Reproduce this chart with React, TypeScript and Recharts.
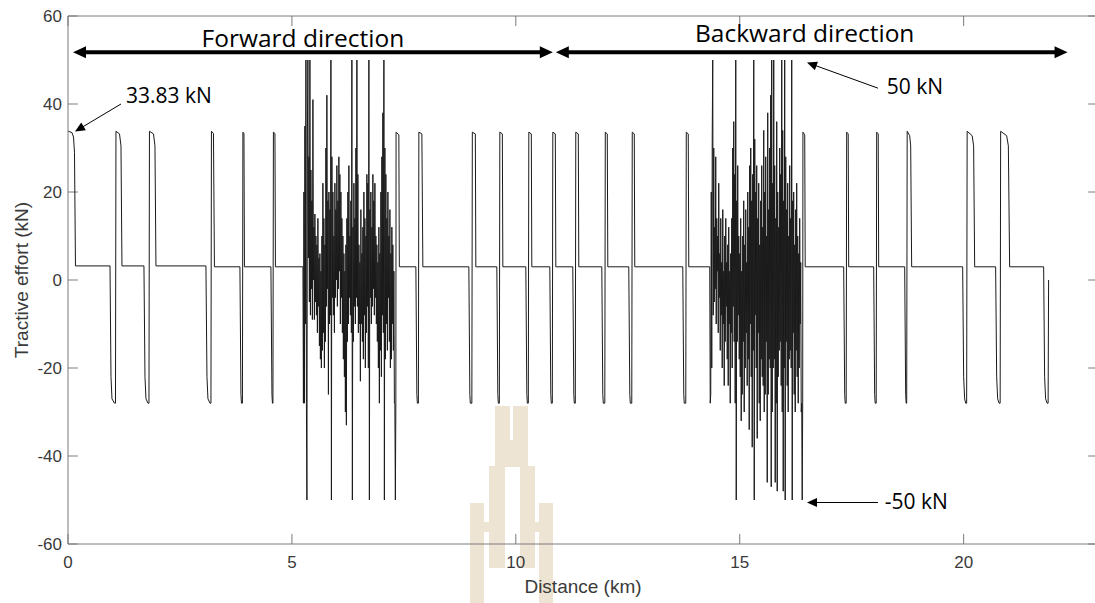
import React from "react";
import { LineChart, Line, XAxis, YAxis, ReferenceLine, ReferenceDot } from "recharts";

type Pt = [number, number];

// distance (km), tractive effort (kN)
const startRun: Pt[] = [
  [0, 33.83], [0.089, 33.5], [0.123, 32.5], [0.145, 29], [0.167, 3.2],
  [0.938, 3.2], [0.96, -22], [0.982, -27], [1.038, -28], [1.06, -28], [1.071, 33.8], [1.15, 33.2], [1.183, 30.5], [1.205, 3.2],
  [1.696, 3.2], [1.719, -22], [1.741, -27], [1.786, -28], [1.808, -28], [1.819, 33.8], [1.909, 33.2], [1.942, 30.5], [1.964, 3.2],
  [3.08, 3.2], [3.103, -22], [3.125, -27], [3.17, -28], [3.192, -28], [3.203, 33.8], [3.248, 33.3], [3.27, 3.0],
  [3.839, 3.0], [3.862, -26], [3.873, -28], [3.895, -28], [3.906, 33.6], [3.929, 33.3], [3.94, 3.0],
  [4.531, 3.0], [4.554, -26], [4.565, -28], [4.576, -28], [4.587, 33.6], [4.621, 33.3], [4.632, 3.0],
  [5.246, 3.0],
];

const forwardNoise: Pt[] = [
  [5.257, -28], [5.268, 20], [5.279, -28], [5.29, 35], [5.301, -10], [5.313, 50], [5.324, -28], [5.335, -50],
  [5.346, 33], [5.357, 50], [5.368, 5], [5.379, 28], [5.39, -5], [5.402, 50], [5.413, -8], [5.424, 25],
  [5.435, -2], [5.446, 18], [5.457, -9], [5.469, 41], [5.48, 0], [5.491, 12], [5.502, -9], [5.513, 15],
  [5.524, -5], [5.536, 10], [5.547, -8], [5.558, 8], [5.569, -12], [5.58, 14], [5.591, -6], [5.603, 5],
  [5.614, -15], [5.625, 6], [5.636, -18], [5.647, 2], [5.658, -20], [5.67, 10], [5.681, -16], [5.692, 22],
  [5.703, -12], [5.714, 14], [5.725, -20], [5.737, 8], [5.748, -14], [5.759, 30], [5.77, -6], [5.781, 42],
  [5.792, -2], [5.804, 18], [5.815, -26], [5.826, 20], [5.837, -10], [5.848, 16], [5.859, -8], [5.871, 50],
  [5.882, -50], [5.893, 28], [5.904, -4], [5.915, 20], [5.926, -8], [5.938, 10], [5.949, -12], [5.96, 22],
  [5.971, -4], [5.982, 16], [5.993, 0], [6.004, 26], [6.015, -6], [6.027, 18], [6.038, -2], [6.049, 28],
  [6.06, 2], [6.071, 24], [6.082, -10], [6.094, 20], [6.105, -4], [6.116, 14], [6.127, -12], [6.138, 10],
  [6.149, -18], [6.161, 6], [6.172, -22], [6.183, 2], [6.194, -30], [6.205, 8], [6.216, -33], [6.228, 14],
  [6.239, -14], [6.25, 20], [6.261, -10], [6.272, 26], [6.283, -4], [6.295, 10], [6.306, -8], [6.317, 18],
  [6.328, -12], [6.339, 50], [6.35, -50], [6.362, 12], [6.373, -14], [6.384, 22], [6.395, -6], [6.406, 14],
  [6.417, -10], [6.429, 30], [6.44, -4], [6.451, 50], [6.462, -6], [6.473, 24], [6.484, -12], [6.496, 8],
  [6.507, -10], [6.518, 4], [6.529, -23], [6.54, 16], [6.551, -10], [6.563, 6], [6.574, -14], [6.585, 12],
  [6.596, -18], [6.607, 20], [6.618, -8], [6.629, 14], [6.64, -20], [6.652, 10], [6.663, -12], [6.674, 24],
  [6.685, -6], [6.696, 22], [6.707, -20], [6.719, 50], [6.73, -50], [6.741, 16], [6.752, -4], [6.763, 20],
  [6.774, -10], [6.786, 12], [6.797, -6], [6.808, 24], [6.819, -2], [6.83, 18], [6.841, -8], [6.853, 22],
  [6.864, -4], [6.875, 10], [6.886, -10], [6.897, 8], [6.908, -14], [6.92, 4], [6.931, -20], [6.942, 12],
  [6.953, -28], [6.964, 6], [6.975, -16], [6.987, 20], [6.998, -22], [7.009, 28], [7.02, -8], [7.031, 38],
  [7.042, -12], [7.054, 50], [7.065, -50], [7.076, 30], [7.087, -18], [7.098, 24], [7.109, -10], [7.121, 14],
  [7.132, -16], [7.143, 20], [7.154, -4], [7.165, 10], [7.176, -14], [7.188, 16], [7.199, -20], [7.21, 6],
  [7.221, -18], [7.232, 12], [7.243, -10], [7.254, 8], [7.265, -16], [7.277, 2], [7.288, -28], [7.299, -28],
  [7.31, -50], [7.321, -28], [7.326, 33.6], [7.388, 33.0], [7.399, 3.0],
];

const midRun: Pt[] = [
  [7.768, 3.0], [7.79, -26], [7.801, -28], [7.824, -28], [7.835, 33.6], [7.902, 33.2], [7.924, 3.0],
  [8.951, 3.0], [8.973, -26], [8.984, -28], [9.018, -28], [9.029, 33.6], [9.096, 33.2], [9.107, 3.0],
  [9.576, 3.0], [9.598, -26], [9.609, -28], [9.632, -28], [9.643, 33.6], [9.699, 33.2], [9.71, 3.0],
  [10.223, 3.0], [10.246, -26], [10.257, -28], [10.279, -28], [10.29, 33.6], [10.346, 33.2], [10.357, 3.0],
  [10.759, 3.0], [10.781, -26], [10.792, -28], [10.815, -28], [10.826, 33.6], [10.882, 33.2], [10.893, 3.0],
  [11.272, 3.0], [11.295, -26], [11.306, -28], [11.328, -28], [11.339, 33.6], [11.395, 33.2], [11.406, 3.0],
  [11.92, 3.0], [11.942, -26], [11.953, -28], [11.987, -28], [11.998, 33.6], [12.042, 33.2], [12.054, 3.0],
  [12.522, 3.0], [12.545, -26], [12.556, -28], [12.589, -28], [12.6, 33.6], [12.645, 33.2], [12.656, 3.0],
  [13.728, 3.0], [13.75, -26], [13.761, -28], [13.795, -28], [13.806, 33.6], [13.85, 33.2], [13.862, 3.0],
  [14.33, 3.0],
];

const backwardNoise: Pt[] = [
  [14.341, -28], [14.353, -26], [14.364, 20], [14.375, -20], [14.386, 33], [14.397, 50], [14.408, -8], [14.42, 30],
  [14.431, -5], [14.442, 12], [14.453, -2], [14.464, 28], [14.475, -10], [14.487, 14], [14.498, 2], [14.509, 10],
  [14.52, -12], [14.531, 22], [14.542, -4], [14.554, 6], [14.565, -16], [14.576, 14], [14.587, -8], [14.598, 4],
  [14.609, -20], [14.621, 16], [14.632, -10], [14.643, 2], [14.654, -24], [14.665, 10], [14.676, -14], [14.688, 14],
  [14.699, -6], [14.71, 4], [14.721, -18], [14.732, 8], [14.743, -24], [14.754, 12], [14.765, -10], [14.777, 2],
  [14.788, -28], [14.799, 6], [14.81, -12], [14.821, 14], [14.832, -20], [14.844, 30], [14.855, -6], [14.866, 36],
  [14.877, -14], [14.888, 24], [14.899, -28], [14.911, 50], [14.922, -50], [14.933, 18], [14.944, -14], [14.955, 26],
  [14.966, -8], [14.978, 10], [14.989, -18], [15.0, 6], [15.011, -22], [15.022, 14], [15.033, -32], [15.045, 2],
  [15.056, -26], [15.067, 10], [15.078, -14], [15.089, 18], [15.1, -30], [15.112, 8], [15.123, -20], [15.134, 16],
  [15.145, -12], [15.156, 4], [15.167, -24], [15.179, 20], [15.19, -18], [15.201, 12], [15.212, -34], [15.223, 26],
  [15.234, -10], [15.246, 30], [15.257, -22], [15.268, 18], [15.279, -38], [15.29, 24], [15.301, -16], [15.313, 50],
  [15.324, -50], [15.335, 32], [15.346, -8], [15.357, 20], [15.368, -20], [15.379, 26], [15.39, -36], [15.402, 14],
  [15.413, -12], [15.424, 22], [15.435, -28], [15.446, 8], [15.457, -32], [15.469, 18], [15.48, -18], [15.491, 26],
  [15.502, -22], [15.513, 12], [15.524, -24], [15.536, 34], [15.547, -30], [15.558, 20], [15.569, -26], [15.58, 28],
  [15.591, -14], [15.603, 10], [15.614, -46], [15.625, 38], [15.636, -26], [15.647, 16], [15.658, -18], [15.67, 30],
  [15.681, -20], [15.692, 42], [15.703, -47], [15.714, 50], [15.725, -30], [15.737, 22], [15.748, -20], [15.759, 50],
  [15.77, -18], [15.781, 26], [15.792, -46], [15.804, 14], [15.815, -28], [15.826, 36], [15.837, -48], [15.848, 20],
  [15.859, -22], [15.871, 12], [15.882, -16], [15.893, 30], [15.904, -14], [15.915, 24], [15.926, -24], [15.938, 50],
  [15.949, -30], [15.96, 34], [15.971, -48], [15.982, 18], [15.993, -20], [16.004, 50], [16.015, -50], [16.027, 28],
  [16.038, -14], [16.049, 16], [16.06, -24], [16.071, 22], [16.082, -30], [16.094, 10], [16.105, -18], [16.116, 26],
  [16.127, -16], [16.138, 14], [16.149, -20], [16.161, 50], [16.172, -50], [16.183, 18], [16.194, -12], [16.205, 20],
  [16.216, -26], [16.228, 8], [16.239, -30], [16.25, 16], [16.261, -16], [16.272, 22], [16.283, -22], [16.295, 10],
  [16.306, -28], [16.317, 6], [16.328, -20], [16.339, 14], [16.35, -10], [16.362, 4], [16.373, -30], [16.384, -28],
  [16.395, -50], [16.406, -28], [16.411, 33.6], [16.451, 33.0], [16.462, 3.0],
];

const endRun: Pt[] = [
  [17.321, 3.0], [17.344, -26], [17.355, -28], [17.377, -28], [17.388, 33.6], [17.422, 33.2], [17.433, 3.0],
  [17.991, 3.0], [18.013, -26], [18.024, -28], [18.047, -28], [18.058, 33.6], [18.092, 33.2], [18.103, 3.0],
  [18.683, 3.0], [18.705, -26], [18.716, -28], [18.728, -28], [18.739, 33.8], [18.795, 32.8], [18.817, 30.5], [18.839, 3.0],
  [19.978, 3.0], [20.0, -22], [20.022, -27], [20.045, -28], [20.067, -28], [20.078, 33.8], [20.19, 32.8], [20.223, 30.5], [20.246, 3.0],
  [20.714, 3.0], [20.737, -22], [20.759, -27], [20.792, -28], [20.815, -28], [20.826, 33.8], [20.96, 32.8], [20.998, 30.5], [21.027, 3.0],
  [21.786, 3.0], [21.808, -22], [21.83, -27], [21.864, -28], [21.886, -28], [21.897, 0],
];

const xTicks = [0, 5, 10, 15, 20];
const yTicks = [-60, -40, -20, 0, 20, 40, 60];
const xDomain: [number, number] = [0, 23];
const yDomain: [number, number] = [-60, 60];

const directionArrows: { from: Pt; to: Pt }[] = [
  { from: [0.112, 51.75], to: [10.826, 51.75] },
  { from: [10.893, 51.75], to: [22.321, 51.75] },
];
const directionLabels: { text: string; at: Pt }[] = [
  { text: "Forward direction", at: [5.246, 53.0] },
  { text: "Backward direction", at: [16.451, 54.0] },
];
const callouts: { text: string; at: Pt; from: Pt; to: Pt }[] = [
  { text: "33.83 kN", at: [1.295, 40.2], from: [1.183, 40.0], to: [0.156, 33.75] },
  { text: "50 kN", at: [18.281, 42.3], from: [18.087, 43.6], to: [16.502, 49.43] },
  { text: "-50 kN", at: [18.237, -52.1], from: [18.087, -50.57], to: [16.502, -50.57] },
];

const series = [...startRun, ...forwardNoise, ...midRun, ...backwardNoise, ...endRun].map(
  ([km, kN]) => ({ km, kN })
);

const AXIS = "#7a7a7a";
const LABEL = "#3a3a3a";
const SANS = "'Liberation Sans', Arial, sans-serif";
const NOTE_FONT = "'Open Sans', Lato, sans-serif";
const TICK_KN = 2.3; // inward tick length in kN units
const TICK_KM = 0.22; // inward tick length in km units

function headPoints(tx: number, ty: number, ux: number, uy: number, len: number, half: number) {
  const bx = tx - ux * len;
  const by = ty - uy * len;
  return `${tx},${ty} ${bx - uy * half},${by + ux * half} ${bx + uy * half},${by - ux * half}`;
}

function arrowShape(width: number, len: number, half: number, both: boolean) {
  return (p: any) => {
    const { x1, y1, x2, y2 } = p;
    const d = Math.hypot(x2 - x1, y2 - y1) || 1;
    const ux = (x2 - x1) / d;
    const uy = (y2 - y1) / d;
    const sx = both ? x1 + ux * len * 0.7 : x1;
    const sy = both ? y1 + uy * len * 0.7 : y1;
    return (
      <g>
        <line x1={sx} y1={sy} x2={x2 - ux * len * 0.7} y2={y2 - uy * len * 0.7} stroke="#000" strokeWidth={width} />
        <polygon points={headPoints(x2, y2, ux, uy, len, half)} fill="#000" />
        {both && <polygon points={headPoints(x1, y1, -ux, -uy, len, half)} fill="#000" />}
      </g>
    );
  };
}

function YTitle(props: any) {
  const vb = props.viewBox ?? { x: 0, y: 16, width: 68, height: 528 };
  const cx = 21;
  const cy = vb.y + vb.height / 2;
  return (
    <text
      x={cx}
      y={cy}
      transform={`rotate(-90 ${cx} ${cy})`}
      textAnchor="middle"
      dominantBaseline="central"
      fill={LABEL}
      fontSize={19}
      fontFamily={SANS}
    >
      Tractive effort (kN)
    </text>
  );
}

export default function App() {
  return (
    <div
      style={{
        position: "fixed",
        left: 0,
        top: 0,
        width: 1095,
        height: 603,
        overflow: "hidden",
        background: "#fff",
      }}
    >
      {/* faint watermark behind the plot */}
      <svg width={1095} height={603} style={{ position: "absolute", left: 0, top: 0 }}>
        <g fill="#ede4d3">
          <rect x={495} y={406} width={15} height={40} />
          <rect x={513} y={406} width={15} height={40} />
          <rect x={495} y={440} width={33} height={27} />
          <rect x={489} y={466} width={16} height={102} />
          <rect x={520} y={466} width={15} height={102} />
          <rect x={470} y={503} width={14} height={100} />
          <rect x={484} y={522} width={6} height={10} />
          <rect x={535} y={522} width={5} height={10} />
          <rect x={539} y={503} width={14} height={100} />
        </g>
      </svg>
      <div style={{ position: "absolute", left: 0, top: 0 }}>
        <LineChart width={1100} height={603} data={series} margin={{ top: 16, right: 2, bottom: 0, left: 0 }}>
          <XAxis
            dataKey="km"
            type="number"
            domain={xDomain}
            ticks={xTicks}
            allowDataOverflow
            height={59}
            tickSize={0}
            tickMargin={12}
            tickLine={false}
            axisLine={{ stroke: AXIS }}
            tick={{ fill: LABEL, fontSize: 17, fontFamily: SANS }}
            label={{
              value: "Distance (km)",
              position: "insideBottom",
              offset: 10,
              fill: LABEL,
              fontSize: 19,
              fontFamily: SANS,
            }}
          />
          <YAxis
            type="number"
            domain={yDomain}
            ticks={yTicks}
            allowDataOverflow
            width={68}
            tickSize={0}
            tickMargin={6}
            tickLine={false}
            axisLine={{ stroke: AXIS }}
            tick={{ fill: LABEL, fontSize: 17, fontFamily: SANS }}
            label={<YTitle />}
          />

          {/* box and inward ticks */}
          <ReferenceLine y={yDomain[1]} stroke={AXIS} ifOverflow="visible" />
          <ReferenceLine x={xDomain[1]} stroke={AXIS} ifOverflow="visible" />
          {xTicks.map((v) => (
            <ReferenceLine
              key={`xb${v}`}
              segment={[{ x: v, y: yDomain[0] }, { x: v, y: yDomain[0] + TICK_KN }]}
              stroke={AXIS}
              ifOverflow="visible"
            />
          ))}
          {xTicks.map((v) => (
            <ReferenceLine
              key={`xt${v}`}
              segment={[{ x: v, y: yDomain[1] }, { x: v, y: yDomain[1] - TICK_KN }]}
              stroke={AXIS}
              ifOverflow="visible"
            />
          ))}
          {yTicks.map((v) => (
            <ReferenceLine
              key={`yl${v}`}
              segment={[{ x: xDomain[0], y: v }, { x: xDomain[0] + TICK_KM, y: v }]}
              stroke={AXIS}
              ifOverflow="visible"
            />
          ))}
          {yTicks.map((v) => (
            <ReferenceLine
              key={`yr${v}`}
              segment={[{ x: xDomain[1], y: v }, { x: xDomain[1] - TICK_KM, y: v }]}
              stroke={AXIS}
              ifOverflow="visible"
            />
          ))}

          <Line
            dataKey="kN"
            type="linear"
            dot={false}
            activeDot={false}
            stroke="#1a1a1a"
            strokeWidth={1}
            isAnimationActive={false}
          />

          {/* annotations */}
          {directionArrows.map((a, i) => (
            <ReferenceLine
              key={`da${i}`}
              segment={[{ x: a.from[0], y: a.from[1] }, { x: a.to[0], y: a.to[1] }]}
              ifOverflow="visible"
              shape={arrowShape(4, 13, 6, true)}
            />
          ))}
          {callouts.map((c, i) => (
            <ReferenceLine
              key={`ca${i}`}
              segment={[{ x: c.from[0], y: c.from[1] }, { x: c.to[0], y: c.to[1] }]}
              ifOverflow="visible"
              shape={arrowShape(1, 10, 4.5, false)}
            />
          ))}
          {directionLabels.map((l, i) => (
            <ReferenceDot
              key={`dl${i}`}
              x={l.at[0]}
              y={l.at[1]}
              r={0}
              ifOverflow="visible"
              shape={(p: any) => (
                <text x={p.cx} y={p.cy} textAnchor="middle" fontSize={24.5} fontFamily={NOTE_FONT} fill="#000">
                  {l.text}
                </text>
              )}
            />
          ))}
          {callouts.map((c, i) => (
            <ReferenceDot
              key={`cl${i}`}
              x={c.at[0]}
              y={c.at[1]}
              r={0}
              ifOverflow="visible"
              shape={(p: any) => (
                <text x={p.cx} y={p.cy} textAnchor="start" fontSize={21} fontFamily={NOTE_FONT} fill="#000">
                  {c.text}
                </text>
              )}
            />
          ))}
        </LineChart>
      </div>
    </div>
  );
}
